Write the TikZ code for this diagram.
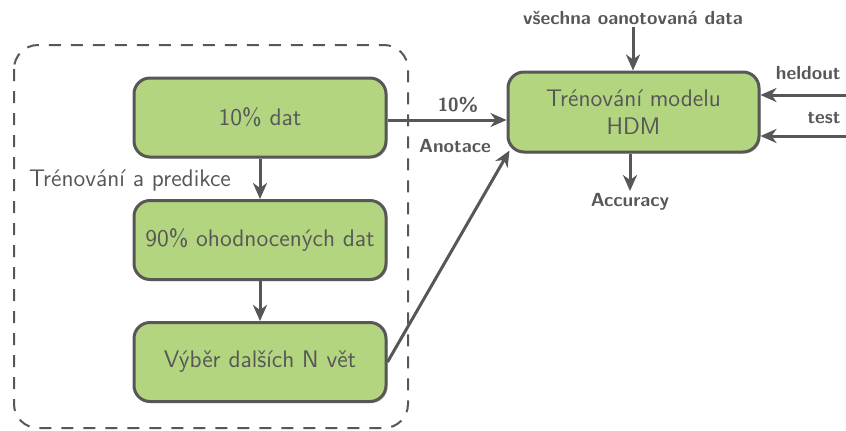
\documentclass[tikz,border=0pt]{standalone}
\usepackage{fontspec}
\renewcommand{\familydefault}{\sfdefault}
\usetikzlibrary{arrows.meta,shadows,calc}
\definecolor{ln}{HTML}{575757}
\definecolor{gf}{HTML}{B3D580}
\tikzset{
  pbox/.style={draw=ln, line width=1.5pt, fill=gf, rounded corners=8pt,
    minimum width=126pt, minimum height=39.5pt, align=center, text=ln,
    font=\fontsize{12}{14}\selectfont,
    drop shadow={shadow xshift=0.8pt, shadow yshift=-0.8pt, opacity=0.18, fill=black}},
  lbl/.style={text=ln, font=\fontsize{9.5}{11}\selectfont\bfseries, inner sep=1pt},
  arr/.style={draw=ln, line width=1.5pt, -{Stealth[length=8pt,width=7pt,inset=2.5pt]}},
  frame/.style={draw=ln, line width=1pt, dash pattern=on 6pt off 5pt, rounded corners=12pt},
}
\begin{document}
\begin{tikzpicture}[x=0.5pt,y=-0.5pt]
\useasboundingbox (0,0) rectangle (846,430);
\draw[frame] (14,45) rectangle (408,428);
\node[text=ln, font=\fontsize{12}{14}\selectfont, anchor=west] (tp) at (22,180) {Trénování a predikce};
\node[pbox] (d1) at (260,117.5) {10\% dat};
\node[pbox] (d2) at (260,240) {90\% ohodnocených dat};
\node[pbox] (d3) at (260,362) {Výběr dalších N vět};
\node[pbox, minimum width=125.5pt, minimum height=40pt] (hdm) at (633.5,112) {Trénování modelu\\HDM};
\node[lbl] (all) at (633,18) {všechna oanotovaná data};
\node[lbl] (acc) at (630,202) {Accuracy};
\node[lbl] (ten) at (458,105) {10\%};
\node[lbl] (ano) at (455,146) {Anotace};
\node[lbl, anchor=east] (held) at (843,73) {heldout};
\node[lbl, anchor=east] (test) at (843,118) {test};
\coordinate (hin) at (846,95);
\coordinate (tin) at (846,136);
\draw[arr] (d1) -- (d2);
\draw[arr] (d2) -- (d3);
\draw[arr] (d1.east |- 0,120) -- (hdm.west |- 0,120);
\draw[arr] (d3.east) -- ($(hdm.south west)+(3,-3)$);
\draw[arr] (all) -- (hdm.north -| all);
\draw[arr] (hdm.south -| acc) -- (acc);
\draw[arr] (hin) -- (hin -| hdm.east);
\draw[arr] (tin) -- (tin -| hdm.east);
\end{tikzpicture}
\end{document}
